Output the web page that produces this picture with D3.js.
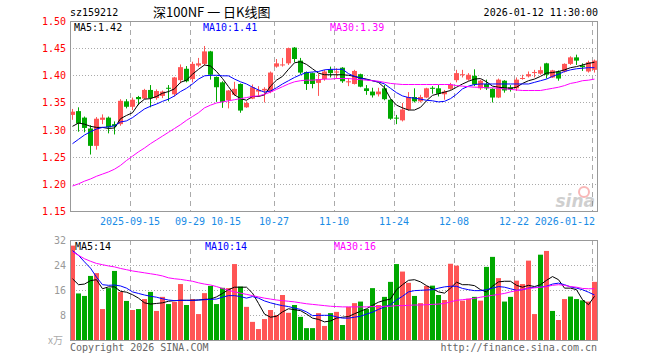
<!DOCTYPE html>
<html><head><meta charset="utf-8">
<script src="https://cdn.jsdelivr.net/npm/d3@7/dist/d3.min.js"></script>
<style>body{margin:0;background:#fff}svg{display:block}</style>
</head><body><svg id="c" width="660" height="360"></svg>
<script>
const dates = ["2025-09-01","2025-09-02","2025-09-03","2025-09-04","2025-09-05","2025-09-08","2025-09-09","2025-09-10","2025-09-11","2025-09-12",
"2025-09-15","2025-09-16","2025-09-17","2025-09-18","2025-09-19","2025-09-22","2025-09-23","2025-09-24","2025-09-25","2025-09-26",
"2025-09-29","2025-09-30","2025-10-09","2025-10-10","2025-10-13","2025-10-14","2025-10-15","2025-10-16","2025-10-17","2025-10-20",
"2025-10-21","2025-10-22","2025-10-23","2025-10-24","2025-10-27","2025-10-28","2025-10-29","2025-10-30","2025-10-31","2025-11-03",
"2025-11-04","2025-11-05","2025-11-06","2025-11-07","2025-11-10","2025-11-11","2025-11-12","2025-11-13","2025-11-14","2025-11-17",
"2025-11-18","2025-11-19","2025-11-20","2025-11-21","2025-11-24","2025-11-25","2025-11-26","2025-11-27","2025-11-28","2025-12-01",
"2025-12-02","2025-12-03","2025-12-04","2025-12-05","2025-12-08","2025-12-09","2025-12-10","2025-12-11","2025-12-12","2025-12-15",
"2025-12-16","2025-12-17","2025-12-18","2025-12-19","2025-12-22","2025-12-23","2025-12-24","2025-12-25","2025-12-26","2025-12-29",
"2025-12-30","2025-12-31","2026-01-05","2026-01-06","2026-01-07","2026-01-08","2026-01-09","2026-01-12"];

const open = [1.327,1.334,1.322,1.302,1.270,1.318,1.322,1.310,1.310,1.352,
1.342,1.360,1.357,1.373,1.358,1.362,1.377,1.365,1.391,1.412,
1.393,1.418,1.421,1.444,1.397,1.387,1.354,1.364,1.384,1.341,
1.357,1.370,1.372,1.370,1.416,1.419,1.422,1.451,1.427,1.406,
1.404,1.386,1.393,1.411,1.405,1.414,1.387,1.384,1.402,1.376,
1.370,1.365,1.376,1.355,1.322,1.317,1.337,1.360,1.352,1.359,
1.377,1.376,1.365,1.375,1.391,1.401,1.392,1.399,1.376,1.384,
1.375,1.359,1.390,1.378,1.376,1.394,1.398,1.405,1.403,1.422,
1.396,1.407,1.407,1.421,1.433,1.418,1.407,1.410];
const high = [1.338,1.341,1.324,1.308,1.323,1.328,1.324,1.315,1.356,1.356,
1.359,1.362,1.375,1.382,1.374,1.372,1.382,1.397,1.420,1.417,
1.425,1.432,1.454,1.445,1.398,1.389,1.373,1.388,1.385,1.352,
1.383,1.380,1.378,1.407,1.430,1.432,1.451,1.452,1.432,1.407,
1.405,1.403,1.410,1.416,1.413,1.415,1.395,1.410,1.403,1.382,
1.377,1.377,1.382,1.356,1.327,1.349,1.369,1.376,1.364,1.377,
1.380,1.382,1.373,1.386,1.410,1.410,1.404,1.411,1.392,1.392,
1.376,1.394,1.391,1.382,1.396,1.401,1.407,1.410,1.416,1.423,
1.410,1.409,1.422,1.435,1.438,1.422,1.427,1.429];
const low = [1.318,1.296,1.295,1.254,1.263,1.310,1.293,1.291,1.307,1.339,
1.336,1.345,1.356,1.341,1.355,1.358,1.352,1.361,1.385,1.387,
1.387,1.415,1.418,1.392,1.351,1.340,1.339,1.362,1.331,1.340,
1.356,1.360,1.350,1.367,1.414,1.416,1.419,1.424,1.402,1.373,
1.376,1.362,1.390,1.396,1.394,1.386,1.380,1.383,1.378,1.364,
1.359,1.361,1.354,1.318,1.310,1.315,1.335,1.350,1.350,1.358,
1.366,1.361,1.355,1.373,1.387,1.396,1.390,1.380,1.373,1.373,
1.350,1.358,1.368,1.370,1.371,1.392,1.396,1.396,1.401,1.394,
1.395,1.390,1.405,1.419,1.419,1.408,1.405,1.405];
const close = [1.333,1.311,1.303,1.270,1.320,1.322,1.304,1.306,1.353,1.342,
1.355,1.356,1.373,1.358,1.371,1.370,1.376,1.396,1.415,1.389,
1.421,1.422,1.444,1.401,1.378,1.351,1.372,1.375,1.335,1.349,
1.378,1.373,1.375,1.405,1.422,1.420,1.450,1.430,1.405,1.384,
1.384,1.393,1.407,1.404,1.407,1.389,1.389,1.408,1.379,1.371,
1.363,1.370,1.356,1.320,1.321,1.337,1.360,1.352,1.360,1.376,
1.375,1.366,1.370,1.383,1.404,1.402,1.401,1.383,1.390,1.376,
1.359,1.392,1.372,1.374,1.392,1.395,1.402,1.406,1.4095,1.401,
1.409,1.394,1.421,1.433,1.427,1.415,1.424,1.427];

const ma5 = [1.306,1.312,1.310,1.306,1.304,1.304,1.302,1.303,1.320,1.326,
1.331,1.347,1.356,1.357,1.361,1.367,1.370,1.375,1.387,1.391,
1.402,1.411,1.419,1.417,1.407,1.394,1.379,1.364,1.357,1.354,
1.361,1.361,1.364,1.380,1.391,1.398,1.411,1.423,1.425,1.420,
1.412,1.404,1.401,1.401,1.401,1.401,1.400,1.398,1.395,1.393,
1.390,1.387,1.377,1.357,1.345,1.340,1.336,1.336,1.341,1.353,
1.363,1.366,1.369,1.372,1.378,1.384,1.389,1.393,1.394,1.388,
1.380,1.378,1.377,1.376,1.378,1.385,1.390,1.393,1.398,1.404,
1.405,1.407,1.410,1.414,1.416,1.419,1.422,1.424];
const ma10 = [1.274,1.282,1.290,1.296,1.301,1.304,1.305,1.307,1.314,1.316,
1.322,1.330,1.338,1.343,1.347,1.352,1.356,1.362,1.370,1.376,
1.384,1.393,1.399,1.400,1.400,1.399,1.399,1.393,1.388,1.384,
1.378,1.373,1.369,1.371,1.377,1.384,1.390,1.396,1.401,1.405,
1.406,1.407,1.410,1.411,1.411,1.411,1.403,1.398,1.395,1.392,
1.390,1.388,1.384,1.376,1.368,1.362,1.359,1.358,1.356,1.354,
1.353,1.351,1.352,1.357,1.365,1.375,1.380,1.383,1.384,1.384,
1.384,1.384,1.384,1.384,1.384,1.384,1.384,1.387,1.390,1.393,
1.398,1.402,1.407,1.410,1.412,1.413,1.414,1.414];
const ma30 = [1.196,1.200,1.205,1.209,1.214,1.218,1.222,1.227,1.234,1.243,
1.251,1.259,1.266,1.274,1.281,1.288,1.295,1.302,1.309,1.317,
1.324,1.331,1.340,1.345,1.349,1.351,1.353,1.355,1.357,1.359,
1.361,1.362,1.365,1.369,1.374,1.379,1.384,1.388,1.390,1.391,
1.391,1.392,1.393,1.393,1.394,1.394,1.394,1.393,1.392,1.391,
1.390,1.389,1.387,1.385,1.384,1.383,1.383,1.383,1.383,1.383,
1.383,1.383,1.383,1.383,1.381,1.380,1.379,1.378,1.378,1.377,
1.377,1.376,1.375,1.374,1.373,1.372,1.372,1.372,1.372,1.374,
1.376,1.378,1.381,1.385,1.387,1.390,1.391,1.393];

const volume = [30.2,14.9,14.1,20.5,21.4,9.9,16.6,22.1,15.4,12.5,
9.6,9.9,13.1,15.4,9.3,13.8,11.5,12.2,17.9,11.2,
13.1,8.3,15.0,17.3,11.5,16.7,16.6,24.3,17.1,10.6,
5.8,3.5,6.7,9.6,8.0,14.4,8.7,11.2,7.4,3.8,
3.8,8.6,4.5,8.6,9.0,4.8,10.6,11.8,12.3,9.9,
16.6,11.2,13.8,18.6,24.3,21.9,18.3,14.1,11.8,17.3,
17.4,14.4,12.8,24.4,23.8,12.6,13.2,13.8,12.6,23.4,
26.6,19.8,12.3,13.8,19.0,17.9,25.4,8.3,27.3,28.5,
9.3,6.4,13.1,13.9,13.1,12.7,12.3,18.6];
// 1 = red (up) bar, 0 = green (down) bar
const volUp = [1,0,0,0,1,1,0,0,1,0,
1,0,1,0,1,1,0,1,1,0,
1,1,1,0,0,0,1,1,0,1,
1,1,1,1,1,1,1,0,0,0,
0,1,1,0,1,0,1,1,0,0,
0,1,0,0,0,1,1,0,1,1,
0,0,1,1,1,1,1,0,1,0,
0,1,0,0,1,1,1,1,0,1,
0,1,1,0,0,0,1,1];
const vma5 = [19.6,17.7,17.9,19.0,19.3,16.4,17.0,17.0,15.6,15.3,
14.5,13.4,11.9,11.5,11.7,11.9,12.4,12.6,12.7,12.7,
12.7,12.8,13.0,13.1,13.8,14.9,16.1,16.9,16.9,16.9,
15.0,11.7,8.3,7.3,7.6,9.0,10.0,9.7,9.4,8.3,
7.0,6.6,5.8,6.1,7.0,7.3,7.5,8.4,9.2,10.0,
11.1,12.1,12.7,13.1,16.1,17.7,19.1,19.3,18.6,17.4,
16.4,15.4,15.0,16.6,18.5,17.7,17.7,17.4,16.1,15.4,
17.2,18.6,18.8,18.8,17.5,16.9,17.5,17.1,17.7,19.1,
20.3,19.3,16.6,16.6,16.1,12.9,11.3,14.0];
const vma10 = [28.6,27.1,25.0,23.0,20.1,17.7,17.5,17.6,17.3,16.6,
15.4,14.9,14.4,14.0,13.7,13.2,12.8,12.6,12.7,12.7,
12.7,12.8,12.9,13.0,13.1,13.7,14.2,14.2,13.9,13.4,
13.9,13.4,12.5,11.9,11.4,11.0,10.7,10.2,9.8,9.0,
7.8,7.9,7.9,7.9,7.4,7.0,7.0,7.3,7.6,8.3,
8.9,9.8,10.6,11.3,12.8,14.0,15.4,15.8,15.9,16.0,
16.1,16.6,17.0,17.2,17.2,16.5,16.1,15.8,15.8,16.1,
16.6,17.1,16.9,16.4,15.9,16.1,16.6,16.9,16.9,17.2,
17.9,18.2,17.7,17.0,16.6,16.1,15.3,14.4];
const vma30 = [28.2,27.1,26.0,25.2,24.5,24.1,23.7,23.4,22.9,22.5,
22.1,21.8,21.5,21.2,20.9,20.5,19.9,19.6,19.4,19.1,
18.8,18.3,17.9,17.6,17.1,16.5,15.9,15.4,15.0,14.6,
14.2,13.8,13.4,13.1,12.8,12.6,12.4,12.2,11.9,11.6,
11.4,11.2,11.0,10.8,10.7,10.6,10.6,10.6,10.6,10.6,
10.7,10.7,10.8,10.8,11.0,11.0,11.1,11.2,11.2,11.3,
11.4,11.5,11.7,12.2,12.7,12.9,13.1,13.3,13.7,14.0,
14.3,14.6,14.9,15.4,15.8,16.2,16.5,16.7,16.9,17.1,
17.5,17.7,17.5,17.1,16.9,16.5,16.4,16.4];

const priceTicks = [1.50,1.45,1.40,1.35,1.30,1.25,1.20,1.15];
const volTicks = [32,24,16,8];
const xTickIdx = [10,20,26,34,44,54,64,74,87];
const xTickLabels = ["2025-09-15","09-29","10-15","10-27","11-10","11-24","12-08","12-22","2026-01-12"];
const gridIdx = [10,20,34,44,54,64,74,87];

const svg = d3.select("#c");
const L = 70, R = 597, T = 21, B = 211, VT = 240, VB = 340;
const mono = "'DejaVu Sans Mono', monospace";
const RED = "#ff5555", GREEN = "#00a800";

const x = d3.scaleLinear().domain([0, dates.length]).range([L, L + 6*dates.length]);
const y = d3.scaleLinear().domain([1.15, 1.50]).range([B, T]);
const yv = d3.scaleLinear().domain([0, 32]).range([VB, VT]);
const bw = 5;
const cx = i => x(i) + 2.5;

// horizontal grid
svg.append("g").selectAll("line").data(priceTicks.slice(1, -1)).join("line")
  .attr("x1", L).attr("x2", R).attr("y1", d => Math.round(y(d)) + 0.5).attr("y2", d => Math.round(y(d)) + 0.5)
  .attr("stroke", "#aaa").attr("stroke-dasharray", "1,2");
svg.append("g").selectAll("line").data(volTicks.slice(1)).join("line")
  .attr("x1", L).attr("x2", R).attr("y1", d => Math.round(yv(d)) + 0.5).attr("y2", d => Math.round(yv(d)) + 0.5)
  .attr("stroke", "#aaa").attr("stroke-dasharray", "1,2");
// vertical grid
[[T, B], [VT, VB]].forEach(([a, b]) => {
  svg.append("g").selectAll("line").data(gridIdx).join("line")
    .attr("x1", d => Math.round(x(d)) + 0.5).attr("x2", d => Math.round(x(d)) + 0.5)
    .attr("y1", a).attr("y2", b)
    .attr("stroke", "#aaa").attr("stroke-dasharray", "5,4");
});

// candles
const up = i => close[i] >= open[i];
const cg = svg.append("g");
dates.forEach((d, i) => {
  const col = up(i) ? RED : GREEN;
  cg.append("line").attr("x1", Math.floor(cx(i)) + 0.5).attr("x2", Math.floor(cx(i)) + 0.5)
    .attr("y1", y(high[i])).attr("y2", y(low[i])).attr("stroke", col);
  const top = y(Math.max(open[i], close[i])), bot = y(Math.min(open[i], close[i]));
  cg.append("rect").attr("x", x(i)).attr("width", bw)
    .attr("y", top).attr("height", Math.max(1, bot - top)).attr("fill", col);
});

// volume bars
svg.append("g").selectAll("rect").data(volume).join("rect")
  .attr("x", (d, i) => x(i)).attr("width", bw)
  .attr("y", d => yv(d)).attr("height", d => VB - yv(d))
  .attr("fill", (d, i) => volUp[i] ? RED : GREEN);

// MA lines
const line = (sc) => d3.line().x((d, i) => cx(i)).y(d => sc(d));
[[ma5, "#000"], [ma10, "#0000ff"], [ma30, "#ff00ff"]].forEach(([a, c]) =>
  svg.append("path").attr("d", line(y)(a)).attr("fill", "none").attr("stroke", c).attr("stroke-width", 1));
[[vma5, "#000"], [vma10, "#0000ff"], [vma30, "#ff00ff"]].forEach(([a, c]) =>
  svg.append("path").attr("d", line(yv)(a)).attr("fill", "none").attr("stroke", c).attr("stroke-width", 1));

// borders
svg.append("rect").attr("x", L + 0.5).attr("y", T + 0.5).attr("width", R - L).attr("height", B - T)
  .attr("fill", "none").attr("stroke", "#999");
svg.append("rect").attr("x", L + 0.5).attr("y", VT + 0.5).attr("width", R - L).attr("height", VB - VT)
  .attr("fill", "none").attr("stroke", "#999");

// axis labels
svg.append("g").selectAll("text").data(priceTicks).join("text")
  .attr("x", 66).attr("y", d => y(d) + 4).attr("text-anchor", "end")
  .attr("font-family", mono).attr("font-size", 10).attr("fill", "#f00")
  .text(d => d.toFixed(2));
svg.append("g").selectAll("text").data(volTicks).join("text")
  .attr("x", 66).attr("y", d => yv(d) + 4).attr("text-anchor", "end")
  .attr("font-family", mono).attr("font-size", 10).attr("fill", "#999")
  .text(d => d);
svg.append("text").attr("x", 63).attr("y", 344).attr("text-anchor", "end")
  .attr("font-family", "'Noto Sans CJK SC', sans-serif").attr("font-size", 10).attr("fill", "#aaa").text("x万");

svg.append("g").selectAll("text").data(xTickIdx).join("text")
  .attr("x", (d, i) => i === xTickIdx.length - 1 ? R - 2 : x(d))
  .attr("y", 225).attr("text-anchor", (d, i) => i === xTickIdx.length - 1 ? "end" : "middle")
  .attr("font-family", mono).attr("font-size", 10).attr("fill", "#1a8ce6")
  .text((d, i) => xTickLabels[i]);

// titles
svg.append("text").attr("x", L).attr("y", 16).attr("font-family", mono).attr("font-size", 10).attr("fill", "#000").text("sz159212");
svg.append("text").attr("x", 153).attr("y", 17).attr("font-family", "'Noto Sans CJK SC', sans-serif").attr("font-size", 13).attr("fill", "#000").text("深100NF 一 日K线图");
svg.append("text").attr("x", R + 1).attr("y", 16).attr("text-anchor", "end").attr("font-family", mono).attr("font-size", 10).attr("fill", "#000").text("2026-01-12 11:30:00");

// legends
const leg = (xx, yy, txt, c) => svg.append("text").attr("x", xx).attr("y", yy).attr("font-family", mono).attr("font-size", 10).attr("fill", c).text(txt);
leg(74, 31, "MA5:" + ma5[ma5.length - 1].toFixed(2), "#000");
leg(203, 31, "MA10:" + ma10[ma10.length - 1].toFixed(2), "#0000ff");
leg(330, 31, "MA30:" + ma30[ma30.length - 1].toFixed(2), "#ff00ff");
leg(75, 250, "MA5:" + Math.round(vma5[vma5.length - 1]), "#000");
leg(205, 250, "MA10:" + Math.round(vma10[vma10.length - 1]), "#0000ff");
leg(334, 250, "MA30:" + Math.round(vma30[vma30.length - 1]), "#ff00ff");

// footer
svg.append("text").attr("x", L).attr("y", 351).attr("font-family", mono).attr("font-size", 10).attr("fill", "#666").text("Copyright 2026 SINA.COM");
svg.append("text").attr("x", R).attr("y", 351).attr("text-anchor", "end").attr("font-family", mono).attr("font-size", 10).attr("fill", "#666").text("http://finance.sina.com.cn");

// watermark
const wm = svg.append("g").attr("opacity", 0.35);
wm.append("circle").attr("cx", 584).attr("cy", 192).attr("r", 5).attr("fill", "none").attr("stroke", "#e33").attr("stroke-width", 2);
wm.append("text").attr("x", 595).attr("y", 207).attr("text-anchor", "end").attr("font-family", "'DejaVu Sans', sans-serif")
  .attr("font-size", 17).attr("font-style", "italic").attr("font-weight", "bold").attr("fill", "#777").text("sina");
</script></body></html>
